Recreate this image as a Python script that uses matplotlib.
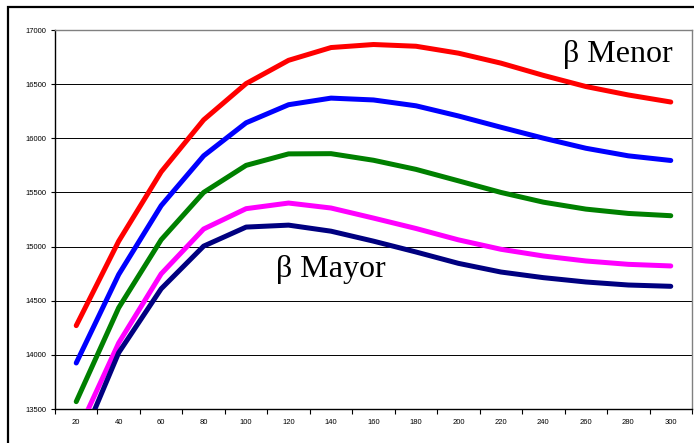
import matplotlib
matplotlib.use("Agg")
import matplotlib.pyplot as plt
from matplotlib.patches import Rectangle

x_values = [20, 40, 60, 80, 100, 120, 140, 160, 180, 200, 220, 240, 260, 280, 300]
x_labels = [str(v) for v in x_values]

red = [14270, 15050, 15690, 16170, 16505, 16720, 16838, 16866, 16850, 16786, 16694, 16581, 16478, 16400, 16335]
blue = [13925, 14742, 15378, 15838, 16143, 16310, 16371, 16354, 16300, 16206, 16102, 16001, 15908, 15838, 15795]
green = [13568, 14435, 15063, 15500, 15750, 15856, 15858, 15797, 15713, 15607, 15500, 15410, 15346, 15306, 15285]
magenta = [13258, 14110, 14748, 15162, 15350, 15402, 15356, 15263, 15167, 15062, 14975, 14913, 14867, 14836, 14821]
navy = [13090, 14020, 14610, 15004, 15180, 15198, 15142, 15050, 14950, 14845, 14765, 14713, 14673, 14645, 14633]

series = [
    (red, "#FF0000"),
    (blue, "#0000FF"),
    (green, "#008000"),
    (magenta, "#FF00FF"),
    (navy, "#000080"),
]

y_ticks = [13500, 14000, 14500, 15000, 15500, 16000, 16500, 17000]

W, H = 694, 443
fig = plt.figure(figsize=(W / 100, H / 100), dpi=100)
fig.patch.set_facecolor("white")

# outer chart border
fig.patches.append(Rectangle((8 / W, -0.05), 1.2, (H - 7) / H + 0.05,
                             transform=fig.transFigure, fill=False,
                             edgecolor="#000000", linewidth=1.6))

ax = fig.add_axes([55 / W, 1 - 409 / H, (692 - 55) / W, (409 - 30) / H])
ax.set_xlim(10, 310)
ax.set_ylim(13500, 17000)

for ys, c in series:
    ax.plot(x_values, ys, color=c, linewidth=3.6, solid_capstyle="round",
            solid_joinstyle="round", zorder=3)

ax.set_yticks(y_ticks)
ax.set_yticklabels([str(v) for v in y_ticks])
ax.yaxis.grid(True, color="#000000", linewidth=0.7)
ax.set_axisbelow(True)

ax.set_xticks(x_values)
ax.set_xticklabels(x_labels)
ax.set_xticks([v - 10 for v in x_values] + [310], minor=True)
ax.tick_params(axis="x", which="major", length=0, pad=7, labelsize=5.5)
ax.tick_params(axis="x", which="minor", length=3.5, width=0.8, direction="out")
ax.tick_params(axis="y", which="major", length=3, width=0.8, pad=3, labelsize=5.5)

for lab in ax.get_xticklabels() + ax.get_yticklabels():
    lab.set_fontfamily("Liberation Sans")

ax.spines["left"].set_color("#000000")
ax.spines["bottom"].set_color("#000000")
ax.spines["left"].set_linewidth(1.0)
ax.spines["bottom"].set_linewidth(1.0)
ax.spines["top"].set_color("#808080")
ax.spines["right"].set_color("#808080")
ax.spines["top"].set_linewidth(1.0)
ax.spines["right"].set_linewidth(1.0)

fig.text(673 / W, 1 - 62 / H, "β Menor", family="Liberation Serif",
         fontsize=23, ha="right", va="baseline", color="black")
fig.text(276 / W, 1 - 277 / H, "β Mayor", family="Liberation Serif",
         fontsize=23, ha="left", va="baseline", color="black")

fig.savefig("out.png", dpi=100, facecolor="white")
